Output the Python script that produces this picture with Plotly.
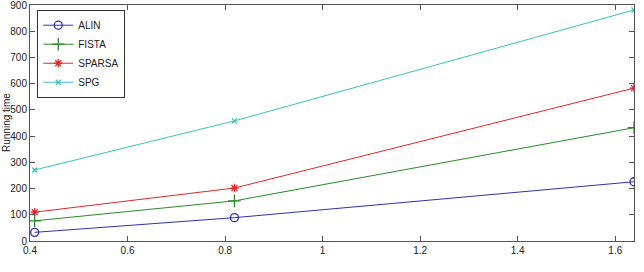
import plotly.graph_objects as go

x_vals = [0.4096, 0.8192, 1.6384]
series_names = ["ALIN", "FISTA", "SPARSA", "SPG"]
alin = [33, 89, 226]
fista = [77, 153, 432]
sparsa = [110, 202, 583]
spg = [271, 458, 881]
x_ticks = [0.4, 0.6, 0.8, 1.0, 1.2, 1.4, 1.6]
x_tick_text = ["0.4", "0.6", "0.8", "1", "1.2", "1.4", "1.6"]
y_ticks = [0, 100, 200, 300, 400, 500, 600, 700, 800, 900]

colors = ["#3030b0", "#2a8a2a", "#e02828", "#3cc0c0"]
symbols = ["circle-open", "cross-thin-open", "asterisk-open", "x-thin-open"]
sizes = [8, 9, 7, 5]

FONT = "Liberation Sans, Arial"

fig = go.Figure()
for name, ys, c, s, sz in zip(series_names, [alin, fista, sparsa, spg], colors, symbols, sizes):
    fig.add_trace(go.Scatter(
        x=x_vals, y=ys, name=name, mode="lines+markers",
        line=dict(color=c, width=1),
        marker=dict(symbol=s, size=sz, color=c, line=dict(color=c, width=1.3)),
    ))

axis_common = dict(
    showline=True, linecolor="#555555", linewidth=1, mirror="allticks",
    ticks="inside", ticklen=5, tickcolor="#555555", showgrid=False, zeroline=False,
    automargin=False, ticklabeloverflow="allow",
    tickfont=dict(family=FONT, size=10, color="#222222"),
)
fig.update_xaxes(range=[0.4, 1.6384], tickvals=x_ticks, ticktext=x_tick_text, **axis_common)
fig.update_yaxes(range=[0, 900], tickvals=y_ticks, **axis_common)

fig.add_annotation(text="Running time", xref="paper", yref="paper", x=0, y=0.5,
                   xshift=-24, textangle=-90, xanchor="center", yanchor="middle",
                   showarrow=False, font=dict(family=FONT, size=10, color="#222222"))

fig.update_layout(
    width=644, height=272,
    margin=dict(l=30, r=10, t=5, b=31),
    plot_bgcolor="white", paper_bgcolor="white",
    font=dict(family=FONT, size=10, color="#222222"),
    xaxis2=dict(domain=[0.955, 1.0], anchor="free", position=0, overlaying="x",
                range=[0, 1], showline=False, showgrid=False, zeroline=False,
                showticklabels=False, ticks="", automargin=False,
                title=dict(text="x 10\u2074", standoff=0,
                           font=dict(family=FONT, size=10, color="#222222"))),
    legend=dict(x=0.012, y=0.98, xanchor="left", yanchor="top",
                bordercolor="#333333", borderwidth=1, bgcolor="white",
                font=dict(size=10, color="#222222"), tracegroupgap=0,
                itemwidth=30),
)

fig.write_html("out.html")
